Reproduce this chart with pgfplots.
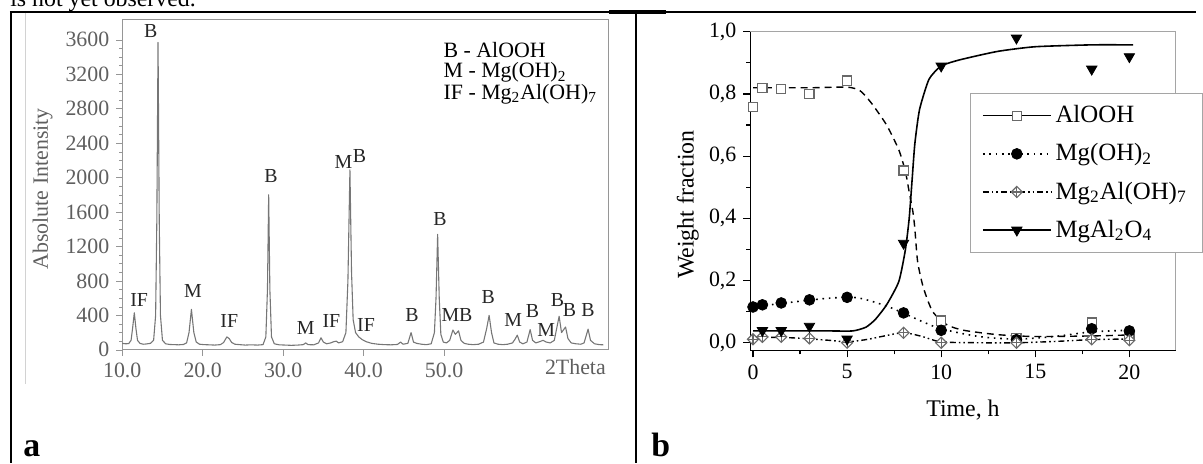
\documentclass[border=0pt]{standalone}
\usepackage{fontspec}
\setmainfont{Liberation Serif}
\usepackage{pgfplots}
\pgfplotsset{compat=1.18}
\usetikzlibrary{plotmarks}

\definecolor{xrdline}{RGB}{118,118,118}
\definecolor{xrdframe}{RGB}{150,150,150}
\definecolor{labgray}{RGB}{95,95,95}
\definecolor{framegray}{RGB}{165,165,165}
\definecolor{sqgray}{RGB}{105,105,105}

% open diamond with a cross inside
\pgfdeclareplotmark{diamondplus}{%
  \pgfpathmoveto{\pgfqpoint{0pt}{\pgfplotmarksize}}%
  \pgfpathlineto{\pgfqpoint{\pgfplotmarksize}{0pt}}%
  \pgfpathlineto{\pgfqpoint{0pt}{-\pgfplotmarksize}}%
  \pgfpathlineto{\pgfqpoint{-\pgfplotmarksize}{0pt}}%
  \pgfpathclose
  \pgfusepathqfillstroke
  \pgfpathmoveto{\pgfqpoint{0pt}{\pgfplotmarksize}}%
  \pgfpathlineto{\pgfqpoint{0pt}{-\pgfplotmarksize}}%
  \pgfpathmoveto{\pgfqpoint{\pgfplotmarksize}{0pt}}%
  \pgfpathlineto{\pgfqpoint{-\pgfplotmarksize}{0pt}}%
  \pgfusepathqstroke}

\begin{document}
\begin{tikzpicture}
\begin{scope}[x=0.5pt,y=-0.5pt]
  \useasboundingbox (0,0) rectangle (1203,466);
  % table rules
  \draw[line width=1pt] (10,12) -- (1203,12);
  \draw[line width=1.6pt] (613,12) -- (670,12);
  \draw[line width=1.3pt] (11,12) -- (11,466);
  \draw[line width=1.3pt] (640,12) -- (640,466);
  \draw[gray!35, line width=0.6pt] (26,13) -- (26,386);
  \node[anchor=base west, font=\fontsize{12}{14}\selectfont, inner sep=0] at (10,7) {is not yet observed.};
  \node[anchor=base west, font=\fontsize{17}{20}\selectfont\bfseries, inner sep=0] at (23,459) {a};
  \node[anchor=base west, font=\fontsize{17}{20}\selectfont\bfseries, inner sep=0] at (655,459) {b};
  % panel a texts
  \node[rotate=90, font=\fontsize{11}{13}\selectfont, text=labgray] at (43,190) {Absolute Intensity};
  \node[font=\fontsize{11}{13}\selectfont, text=labgray] at (579,369) {2Theta};
  \node[anchor=west, font=\fontsize{11}{13}\selectfont, inner sep=0] at (446,50) {B - AlOOH};
  \node[anchor=west, font=\fontsize{11}{13}\selectfont, inner sep=0] at (446,73) {M - Mg(OH)\textsubscript{2}};
  \node[anchor=west, font=\fontsize{11}{13}\selectfont, inner sep=0] at (446,95) {IF - Mg\textsubscript{2}Al(OH)\textsubscript{7}};
  % panel b texts
  \node[rotate=90, font=\fontsize{12}{14}\selectfont] at (692,206) {Weight fraction};
  \node[font=\fontsize{12}{14}\selectfont] at (969,413) {Time, h};
\end{scope}

% ---------- a: XRD pattern ----------
\begin{axis}[
  at={(61.5pt,-176pt)}, anchor=south west,
  width=244.5pt, height=166pt, scale only axis,
  xmin=10, xmax=70.4, ymin=0, ymax=3831,
  xtick={10,20,30,40,50},
  ytick={0,400,800,1200,1600,2000,2400,2800,3200,3600},
  minor y tick num=3,
  xtick pos=left, ytick pos=left, tick align=outside,
  major tick length=3pt, minor tick length=1.5pt,
  axis line style={xrdframe, line width=0.6pt},
  tick style={xrdframe},
  ticklabel style={font=\fontsize{11}{12}\selectfont, text=labgray},
  x tick label style={/pgf/number format/.cd, fixed, fixed zerofill, precision=1},
  y tick label style={/pgf/number format/.cd, fixed, 1000 sep={}},
  /pgf/number format/assume math mode=true,
  scaled ticks=false,
  clip=false,
]
\addplot[xrdline, line width=0.55pt, line join=round] coordinates {
 (10.0,75) (10.4,70) (10.8,72) (11.1,110) (11.3,260) (11.5,430) (11.7,250) (11.9,110)
 (12.2,75) (12.6,65) (13.0,68) (13.5,75) (13.9,110) (14.15,400) (14.3,1500) (14.45,3570)
 (14.6,1500) (14.75,400) (15.0,110) (15.4,70) (15.9,62) (16.5,60) (17.0,58) (17.6,62)
 (18.0,80) (18.3,200) (18.6,470) (18.9,200) (19.2,90) (19.6,65) (20.2,60) (20.8,58)
 (21.5,55) (22.2,60) (22.6,85) (23.0,150) (23.3,130) (23.6,85) (24.0,65) (24.6,60)
 (25.3,55) (26.0,58) (26.8,55) (27.5,60) (27.85,150) (28.05,700) (28.2,1800) (28.35,700)
 (28.55,150) (28.9,70) (29.5,58) (30.3,55) (31.0,52) (31.8,55) (32.5,60) (32.8,80)
 (33.1,60) (33.8,58) (34.4,80) (34.7,140) (35.0,90) (35.4,70) (35.9,80) (36.3,95)
 (36.6,100) (36.9,80) (37.4,95) (37.8,200) (38.05,800) (38.3,2090) (38.5,900) (38.7,350)
 (39.0,200) (39.4,150) (39.8,120) (40.3,95) (41.0,75) (41.8,65) (42.6,60) (43.4,58)
 (44.2,62) (44.6,90) (44.9,65) (45.5,75) (45.9,200) (46.2,90) (46.6,75) (47.2,65)
 (47.8,60) (48.4,70) (48.8,200) (49.0,600) (49.2,1340) (49.4,600) (49.6,180) (49.9,90)
 (50.3,80) (50.7,110) (51.1,230) (51.4,180) (51.8,220) (52.1,110) (52.5,75) (53.0,65)
 (53.6,60) (54.3,65) (54.9,90) (55.3,250) (55.6,400) (55.9,200) (56.2,80) (56.7,65)
 (57.3,60) (57.9,65) (58.5,80) (58.8,120) (59.1,170) (59.4,90) (59.8,70) (60.3,90)
 (60.7,235) (61.0,110) (61.4,80) (61.9,95) (62.3,110) (62.7,90) (63.2,80) (63.7,110)
 (64.0,250) (64.3,390) (64.6,200) (65.1,265) (65.4,130) (65.8,80) (66.4,70) (67.0,65)
 (67.4,80) (67.9,240) (68.2,110) (68.7,70) (69.3,60) (69.8,58)
};
\begin{scope}[every node/.style={font=\fontsize{10}{12}\selectfont, text=black!85, inner sep=0}]
\node at (axis cs:12.1,580) {IF};
\node at (axis cs:13.55,3697) {B};
\node at (axis cs:18.8,680) {M};
\node at (axis cs:23.3,335) {IF};
\node at (axis cs:28.5,2020) {B};
\node at (axis cs:32.8,255) {M};
\node at (axis cs:36.0,335) {IF};
\node at (axis cs:37.5,2180) {M};
\node at (axis cs:39.5,2250) {B};
\node at (axis cs:40.3,290) {IF};
\node at (axis cs:46.0,405) {B};
\node at (axis cs:49.5,1520) {B};
\node at (axis cs:50.8,405) {M};
\node at (axis cs:52.7,405) {B};
\node at (axis cs:55.5,610) {B};
\node at (axis cs:58.6,350) {M};
\node at (axis cs:61.0,450) {B};
\node at (axis cs:62.7,235) {M};
\node at (axis cs:64.1,580) {B};
\node at (axis cs:65.6,465) {B};
\node at (axis cs:67.9,465) {B};
\end{scope}
\end{axis}

% ---------- b: weight fractions ----------
\begin{axis}[
  at={(377.5pt,-176.35pt)}, anchor=south west,
  width=214pt, height=160.35pt, scale only axis,
  xmin=-0.143, xmax=22.46, ymin=-0.025, ymax=1.0,
  xtick={0,5,10,15,20}, ytick={0,0.2,0.4,0.6,0.8,1.0},
  minor x tick num=1, minor y tick num=1,
  xtick pos=left, ytick pos=left, tick align=outside,
  major tick length=3.5pt, minor tick length=2pt,
  axis line style={framegray, line width=0.5pt},
  tick style={black, line width=0.6pt},
  ticklabel style={font=\fontsize{11}{12}\selectfont},
  y tick label style={/pgf/number format/.cd, fixed, fixed zerofill, precision=1, use comma},
  /pgf/number format/assume math mode=true,
  legend cell align=left,
  legend style={at={(0.516,0.807)}, anchor=north west, draw=framegray,
    font=\fontsize{12.5}{15}\selectfont, row sep=5pt, inner ysep=4pt, inner xsep=6pt},
  clip=false,
]
% fitted curves
\addplot[black, line width=0.7pt, dash pattern=on 3.5pt off 2.5pt, smooth, tension=0.4, forget plot] coordinates {
 (0,0.82) (3,0.82) (5,0.822) (5.7,0.81) (6.3,0.77) (7.1,0.70) (7.75,0.62) (8.1,0.55)
 (8.3,0.485) (8.5,0.42) (8.6,0.367) (8.75,0.26) (9.06,0.176) (9.55,0.10) (10.3,0.058)
 (11.2,0.04) (13,0.026) (15,0.02) (18.1,0.022) (20,0.025)
};
\addplot[black, line width=0.8pt, dash pattern=on 0.8pt off 2.4pt, smooth, tension=0.5, forget plot] coordinates {
 (0,0.115) (2,0.13) (4,0.143) (5.5,0.145) (7,0.12) (8,0.095) (9,0.068) (10,0.045)
 (12,0.02) (14,0.012) (16,0.02) (18,0.035) (20,0.04)
};
\addplot[black, line width=0.7pt, dash pattern=on 3pt off 1.5pt on 0.8pt off 1.5pt on 0.8pt off 1.5pt, smooth, tension=0.5, forget plot] coordinates {
 (0,0.018) (2,0.016) (4,0.008) (5,0.003) (6,0.01) (7,0.022) (8,0.032) (9,0.02) (10,0.003)
 (12,0) (14,0) (16,0.004) (18,0.01) (20,0.012)
};
\addplot[black, line width=0.8pt, smooth, tension=0.35, forget plot] coordinates {
 (0,0.038) (2,0.038) (4,0.038) (5.3,0.038) (6.0,0.05) (6.5,0.075) (7.1,0.122) (7.75,0.197)
 (8.1,0.30) (8.3,0.40) (8.45,0.52) (8.6,0.64) (8.85,0.75) (9.35,0.847) (10,0.89) (11,0.91)
 (13,0.937) (15,0.952) (18,0.958) (20.2,0.958)
};
% measured points
\addplot[only marks, mark=square*, mark size=2.3pt, mark options={draw=sqgray, fill=white, line width=0.6pt},
  legend image code/.code={\draw[black, solid, line width=0.7pt] (0cm,0cm) -- (1.2cm,0cm);
    \draw plot[only marks] coordinates {(0.6cm,0cm)};}] coordinates {
 (0,0.758) (0.5,0.82) (1.5,0.815) (3,0.80) (5,0.843) (8,0.554) (10,0.071) (14,0.015) (18,0.065) (20,0.025)
};
\addlegendentry{AlOOH}
\addplot[only marks, mark=*, mark size=2.7pt, mark options={black},
  legend image code/.code={\draw[black, line width=0.8pt, dash pattern=on 0.8pt off 2.4pt] (0cm,0cm) -- (1.2cm,0cm);
    \draw plot[only marks] coordinates {(0.6cm,0cm)};}] coordinates {
 (0,0.115) (0.5,0.122) (1.5,0.128) (3,0.138) (5,0.146) (8,0.096) (10,0.04) (14,0.01) (18,0.045) (20,0.038)
};
\addlegendentry{Mg(OH)\textsubscript{2}}
\addplot[only marks, mark=diamondplus, mark size=2.8pt, mark options={draw=sqgray, fill=white, line width=0.55pt},
  legend image code/.code={\draw[black, line width=0.7pt, dash pattern=on 3pt off 1.5pt on 0.8pt off 1.5pt on 0.8pt off 1.5pt] (0cm,0cm) -- (1.2cm,0cm);
    \draw plot[only marks] coordinates {(0.6cm,0cm)};}] coordinates {
 (0,0.011) (0.5,0.019) (1.5,0.019) (3,0.014) (5,0.0) (8,0.032) (10,0.0) (14,0.0) (18,0.011) (20,0.008)
};
\addlegendentry{Mg\textsubscript{2}Al(OH)\textsubscript{7}}
\addplot[only marks, mark=triangle*, mark size=3pt, mark options={black, rotate=180},
  legend image code/.code={\draw[black, solid, line width=0.8pt] (0cm,0cm) -- (1.2cm,0cm);
    \draw plot[only marks] coordinates {(0.6cm,0cm)};}] coordinates {
 (0.5,0.039) (1.5,0.039) (3,0.053) (5,0.012) (8,0.32) (10,0.89) (14,0.98) (18,0.88) (20,0.92)
};
\addlegendentry{MgAl\textsubscript{2}O\textsubscript{4}}
\draw[black, line width=0.7pt] (rel axis cs:0,1) -- (rel axis cs:0,0) -- (rel axis cs:1,0);
\end{axis}
\end{tikzpicture}
\end{document}
